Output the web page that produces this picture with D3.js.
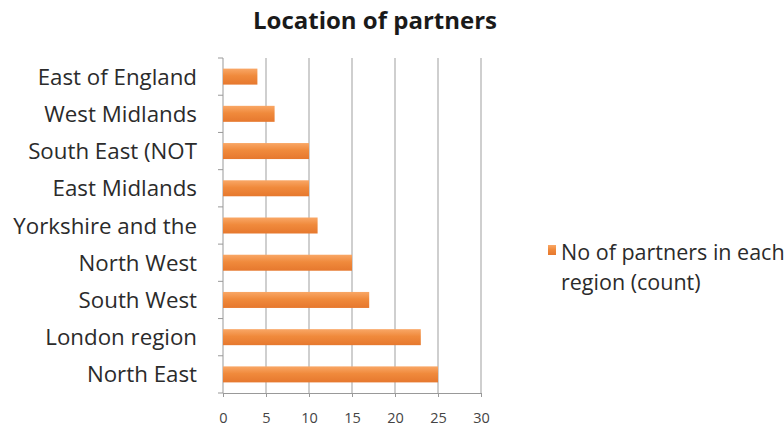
<!DOCTYPE html>
<html>
<head>
<meta charset="utf-8">
<script src="https://cdn.jsdelivr.net/npm/d3@7"></script>
<style>
  body { margin: 0; background: #fff; }
  text { font-family: "Open Sans", "Liberation Sans", sans-serif; }
</style>
</head>
<body>
<svg id="chart"></svg>
<script>
// data
const regions = ["East of England", "West Midlands", "South East (NOT", "East Midlands",
  "Yorkshire and the", "North West", "South West", "London region", "North East"];
const counts = [4, 6, 10, 10, 11, 15, 17, 23, 25];
const xTicks = [0, 5, 10, 15, 20, 25, 30];
const seriesName = ["No of partners in each", "region (count)"];

const width = 784, height = 430;
const margin = { top: 58, right: 303, bottom: 37, left: 223 };

const svg = d3.select("#chart").attr("width", width).attr("height", height);

let defs = svg.append("defs");
let grad = defs.append("linearGradient")
  .attr("id", "barGrad")
  .attr("x1", 0).attr("y1", 0).attr("x2", 0).attr("y2", 1);
grad.append("stop").attr("offset", "0%").attr("stop-color", "#f9a766");
grad.append("stop").attr("offset", "45%").attr("stop-color", "#f08a3c");
grad.append("stop").attr("offset", "100%").attr("stop-color", "#e6782e");

let x = d3.scaleLinear().domain([0, 30]).range([margin.left, width - margin.right]);
let yStep = d3.scaleBand().domain(regions).range([margin.top, height - margin.bottom]);

// title
svg.append("text")
  .attr("x", 375).attr("y", 29)
  .attr("text-anchor", "middle")
  .style("font-size", "24px").style("font-weight", "bold")
  .attr("fill", "#1a1a1a")
  .text("Location of partners");

// gridlines
svg.append("g")
  .selectAll("line")
  .data(xTicks.slice(1))
  .enter()
  .append("line")
  .attr("x1", d => x(d)).attr("x2", d => x(d))
  .attr("y1", margin.top).attr("y2", height - margin.bottom)
  .attr("stroke", "#cfcfcf").attr("stroke-width", 2);

// x axis
let xAxis = svg.append("g")
  .attr("transform", `translate(0,${height - margin.bottom})`)
  .call(d3.axisBottom(x).tickValues(xTicks).tickSize(4));
xAxis.select(".domain").attr("stroke", "#999");
xAxis.selectAll(".tick line").attr("stroke", "#999");
xAxis.selectAll("text").attr("fill", "#444").style("font-size", "14.5px").attr("y", 20).attr("dy", "0.71em");

// y axis: ticks at band boundaries
let yAxis = svg.append("g").attr("transform", `translate(${margin.left},0)`);
yAxis.append("line")
  .attr("x1", 0).attr("x2", 0)
  .attr("y1", margin.top).attr("y2", height - margin.bottom)
  .attr("stroke", "#999");
yAxis.selectAll("line.tk")
  .data(regions.concat(["end"]))
  .enter()
  .append("line")
  .attr("class", "tk")
  .attr("x1", -5).attr("x2", 0)
  .attr("y1", (d, i) => margin.top + i * yStep.step())
  .attr("y2", (d, i) => margin.top + i * yStep.step())
  .attr("stroke", "#999");
yAxis.selectAll("text")
  .data(regions)
  .enter()
  .append("text")
  .attr("x", -26)
  .attr("y", d => yStep(d) + yStep.bandwidth() / 2)
  .attr("dy", "0.36em")
  .attr("text-anchor", "end")
  .attr("fill", "#2b2b2b")
  .style("font-size", "22.3px")
  .text(d => d);

// bars
svg.append("g")
  .selectAll("rect")
  .data(regions)
  .enter()
  .append("rect")
  .attr("x", x(0))
  .attr("y", d => yStep(d) + yStep.bandwidth() / 2 - 8)
  .attr("height", 16)
  .attr("width", (d, i) => x(counts[i]) - x(0))
  .attr("fill", "url(#barGrad)");

// legend
let legend = svg.append("g");
legend.append("rect")
  .attr("x", 548).attr("y", 245).attr("width", 8).attr("height", 10)
  .attr("fill", "url(#barGrad)");
legend.selectAll("text")
  .data(seriesName)
  .enter()
  .append("text")
  .attr("x", 561)
  .attr("y", (d, i) => 260 + i * 30)
  .attr("fill", "#2b2b2b")
  .style("font-size", "21.5px")
  .text(d => d);
</script>
</body>
</html>
